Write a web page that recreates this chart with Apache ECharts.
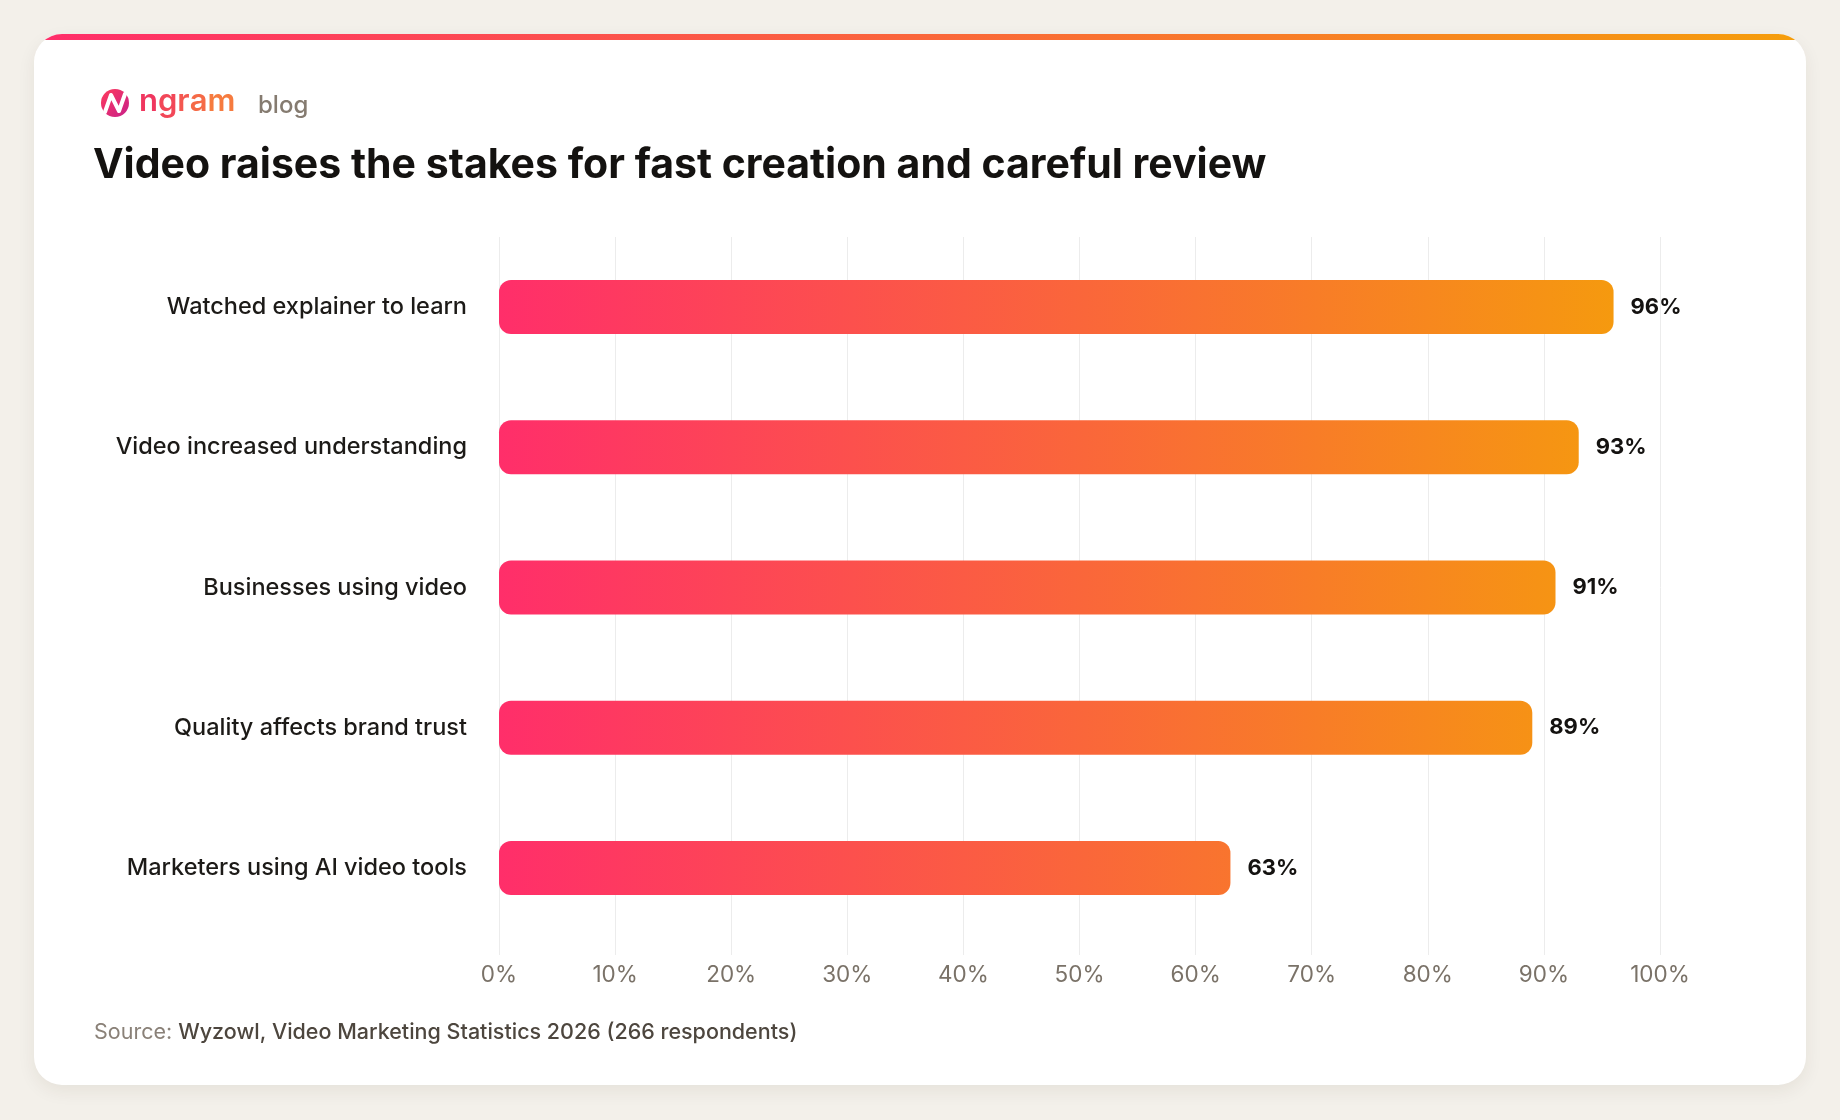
<!DOCTYPE html>
<html>
<head>
<meta charset="utf-8">
<script src="https://cdn.jsdelivr.net/npm/echarts@6/dist/echarts.min.js"></script>
<style>
  html, body { margin: 0; padding: 0; background: #f3f0ea; }
  #card {
    position: absolute; left: 34px; top: 34px; width: 1772px; height: 1051px;
    background: #fff; border-radius: 28px; overflow: hidden;
    box-shadow: 0 6px 18px rgba(60, 45, 20, 0.07);
  }
  #card::before {
    content: ''; position: absolute; left: 0; top: 0; right: 0; height: 6px;
    background: linear-gradient(90deg, #ff2d6a, #f59e0b);
  }
  #chart { position: absolute; left: 0; top: 0; width: 1840px; height: 1120px; }
</style>
</head>
<body>
<div id="card"></div>
<div id="chart"></div>
<script>
const categories = [
  'Watched explainer to learn',
  'Video increased understanding',
  'Businesses using video',
  'Quality affects brand trust',
  'Marketers using AI video tools'
];
const values = [96, 93, 91, 89, 63];
const tickLabels = ['0%', '10%', '20%', '30%', '40%', '50%', '60%', '70%', '80%', '90%', '100%'];

const font = 'Inter, "Noto Sans", sans-serif';
const chart = echarts.init(document.getElementById('chart'));

const barFill = new echarts.graphic.LinearGradient(499, 0, 1660, 0, [
  { offset: 0, color: '#ff2e6a' },
  { offset: 1, color: '#f59e0b' }
], true);

// brand word coloured letter by letter (pink -> orange)
const brandColors = ['#f0375f', '#f24758', '#f45850', '#f56a47', '#f67b3f'];
const brandRich = {};
brandColors.forEach((c, i) => {
  brandRich['l' + i] = { fontSize: 31, fontWeight: 600, fill: c, fontFamily: font };
});
const brandText = 'ngram'.split('').map((ch, i) => '{l' + i + '|' + ch + '}').join('');

chart.setOption({
  backgroundColor: 'transparent',
  textStyle: { fontFamily: font },
  title: {
    text: 'Video raises the stakes for fast creation and careful review',
    left: 88,
    top: 140,
    textStyle: { fontSize: 41, fontWeight: 700, color: '#141210', fontFamily: font }
  },
  graphic: [
    {
      type: 'circle',
      shape: { cx: 115, cy: 103, r: 14 },
      style: {
        fill: new echarts.graphic.LinearGradient(0, 0, 1, 1, [
          { offset: 0, color: '#ff3a5c' },
          { offset: 1, color: '#c8208a' }
        ])
      }
    },
    {
      type: 'polyline',
      shape: { points: [[105, 112], [111, 95], [119, 111], [125, 94]] },
      style: { stroke: '#fff', lineWidth: 4, fill: null, lineJoin: 'round', lineCap: 'round' }
    },
    {
      type: 'text',
      left: 139,
      top: 86,
      style: { text: brandText, rich: brandRich }
    },
    {
      type: 'text',
      left: 258,
      top: 94,
      style: { text: 'blog', font: '500 24px ' + font, fill: '#857b70' }
    },
    {
      type: 'text',
      left: 94,
      top: 1022,
      style: {
        text: '{a|Source: }{b|Wyzowl, Video Marketing Statistics 2026 (266 respondents)}',
        rich: {
          a: { fontSize: 21.5, fill: '#8a8178', fontFamily: font },
          b: { fontSize: 21.5, fill: '#4d463e', fontWeight: 500, fontFamily: font }
        }
      }
    }
  ],
  grid: { left: 499, right: 180, top: 237, height: 701, containLabel: false },
  xAxis: {
    type: 'value',
    min: 0,
    max: 100,
    interval: 10,
    axisLine: { show: false },
    axisTick: { show: true, length: 17, lineStyle: { color: '#ececec', width: 1 } },
    splitLine: { show: true, lineStyle: { color: '#ececec', width: 1 } },
    axisLabel: {
      margin: 26,
      fontSize: 22.5,
      color: '#7a7268',
      fontFamily: font,
      formatter: (v) => tickLabels[Math.round(v / 10)]
    }
  },
  yAxis: {
    type: 'category',
    data: categories,
    inverse: true,
    axisLine: { show: false },
    axisTick: { show: false },
    axisLabel: { margin: 32, fontSize: 23.5, fontWeight: 500, color: '#1c1a17', fontFamily: font }
  },
  series: [{
    type: 'bar',
    data: values,
    barWidth: 54,
    itemStyle: { color: barFill, borderRadius: 12 },
    label: {
      show: true,
      position: 'right',
      distance: 17,
      formatter: '{c}%',
      fontSize: 22,
      fontWeight: 700,
      color: '#141210',
      fontFamily: font
    },
    animation: false
  }],
  animation: false
});
</script>
</body>
</html>
